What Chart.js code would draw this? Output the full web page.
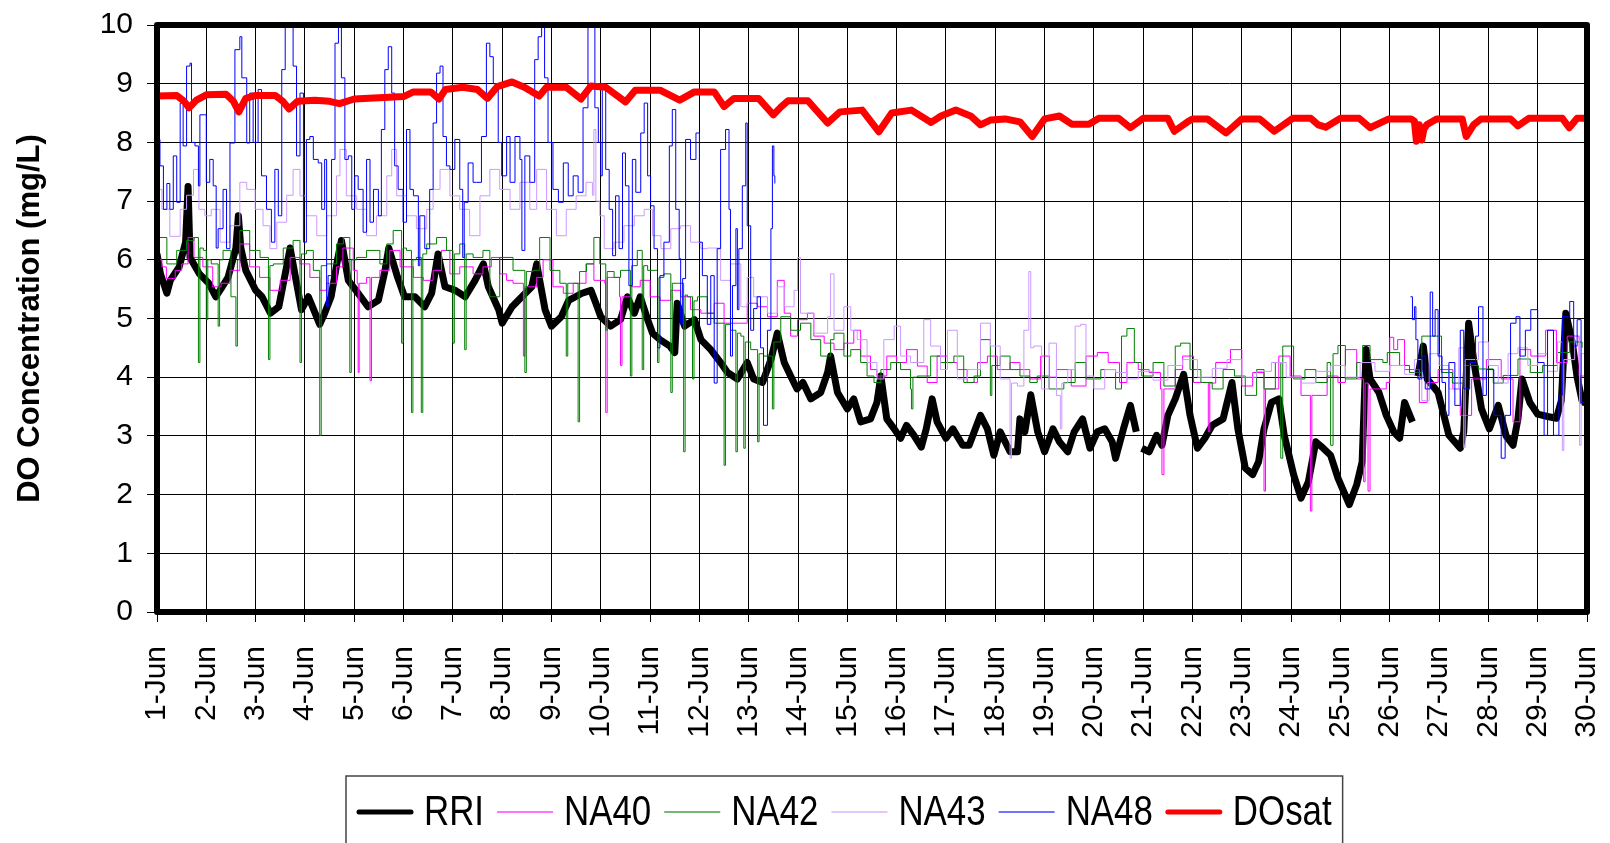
<!DOCTYPE html>
<html lang="en">
<head>
  <meta charset="UTF-8" />
  <title>DO Concentration - June</title>
  <script src="https://cdn.jsdelivr.net/npm/chart.js"></script>
  <style>
    body { margin: 0; background: #fff; }
    #wrap { width: 1610px; height: 843px; position: relative; }
  </style>
</head>
<body>
<div id="wrap"><canvas id="doChart"></canvas></div>

<script>
// x tick labels (day of June)
const dayLabels = ['1-Jun','2-Jun','3-Jun','4-Jun','5-Jun','6-Jun','7-Jun','8-Jun','9-Jun','10-Jun',
  '11-Jun','12-Jun','13-Jun','14-Jun','15-Jun','16-Jun','17-Jun','18-Jun','19-Jun','20-Jun',
  '21-Jun','22-Jun','23-Jun','24-Jun','25-Jun','26-Jun','27-Jun','28-Jun','29-Jun','30-Jun'];

// [day, mg/L]; null = gap in record
const rri = [[1.0,6.1],[1.07,5.76],[1.2,5.43],[1.27,5.65],[1.45,5.88],[1.58,6.3],[1.63,7.25],[1.67,6.04],[1.86,5.76],[2.05,5.6],[2.19,5.37],[2.3,5.51],[2.44,5.7],[2.6,6.2],[2.65,6.75],[2.7,6.2],[2.8,5.82],[3.0,5.48],[3.13,5.37],[3.3,5.09],[3.47,5.2],[3.6,5.76],[3.7,6.2],[3.82,5.65],[3.93,5.15],[4.07,5.37],[4.3,4.9],[4.4,5.09],[4.53,5.37],[4.67,6.04],[4.74,6.33],[4.88,5.65],[5.08,5.43],[5.28,5.2],[5.49,5.31],[5.62,5.8],[5.7,6.2],[5.88,5.7],[6.02,5.37],[6.23,5.37],[6.43,5.2],[6.57,5.43],[6.7,6.1],[6.84,5.54],[7.05,5.48],[7.25,5.37],[7.45,5.65],[7.62,5.93],[7.72,5.54],[7.93,5.15],[8.0,4.92],[8.2,5.2],[8.4,5.37],[8.6,5.54],[8.7,5.93],[8.87,5.15],[9.0,4.87],[9.2,5.03],[9.35,5.31],[9.62,5.43],[9.8,5.48],[9.9,5.26],[10.0,5.03],[10.2,4.87],[10.4,4.98],[10.54,5.37],[10.68,5.09],[10.8,5.37],[10.95,4.98],[11.05,4.75],[11.2,4.64],[11.4,4.53],[11.5,4.42],[11.55,5.26],[11.7,4.87],[11.9,4.98],[12.03,4.64],[12.23,4.47],[12.43,4.25],[12.57,4.08],[12.77,3.97],[12.97,4.25],[13.1,3.97],[13.28,3.91],[13.45,4.3],[13.58,4.75],[13.72,4.25],[13.85,4.02],[13.98,3.8],[14.1,3.91],[14.26,3.63],[14.46,3.74],[14.6,4.08],[14.66,4.36],[14.8,3.74],[15.0,3.46],[15.13,3.63],[15.27,3.24],[15.47,3.29],[15.6,3.57],[15.68,4.02],[15.8,3.29],[15.95,3.12],[16.08,2.96],[16.2,3.18],[16.35,3.01],[16.5,2.81],[16.6,3.12],[16.72,3.63],[16.82,3.24],[17.0,2.96],[17.14,3.12],[17.34,2.84],[17.47,2.84],[17.7,3.35],[17.84,3.12],[17.97,2.67],[18.1,3.07],[18.3,2.73],[18.45,2.73],[18.5,3.29],[18.6,3.07],[18.72,3.7],[18.86,3.07],[19.0,2.73],[19.17,3.12],[19.3,2.9],[19.47,2.73],[19.6,3.07],[19.77,3.29],[19.92,2.79],[20.07,3.07],[20.22,3.12],[20.37,2.9],[20.44,2.62],[20.6,3.12],[20.74,3.52],[20.86,3.07],[20.92,null],[20.97,2.79],[21.12,2.73],[21.27,3.01],[21.38,2.84],[21.5,3.35],[21.65,3.63],[21.82,4.05],[21.95,3.35],[22.1,2.79],[22.25,2.96],[22.4,3.18],[22.62,3.29],[22.8,3.91],[22.92,3.12],[23.07,2.45],[23.22,2.34],[23.34,2.56],[23.45,3.12],[23.6,3.57],[23.75,3.63],[23.86,3.01],[24.05,2.34],[24.2,1.94],[24.35,2.22],[24.5,2.9],[24.65,2.79],[24.8,2.67],[24.95,2.28],[25.18,1.83],[25.33,2.17],[25.44,2.56],[25.52,4.47],[25.6,3.97],[25.78,3.74],[25.93,3.35],[26.08,3.07],[26.2,2.96],[26.3,3.57],[26.46,3.24],[26.52,null],[26.57,4.02],[26.68,4.53],[26.76,3.97],[26.98,3.74],[27.2,3.01],[27.43,2.79],[27.5,3.07],[27.6,4.92],[27.7,4.3],[27.86,3.46],[28.02,3.12],[28.2,3.52],[28.36,3.0],[28.5,2.84],[28.6,3.29],[28.68,3.97],[28.84,3.57],[29.0,3.37],[29.2,3.33],[29.38,3.3],[29.48,3.6],[29.57,5.09],[29.7,4.6],[29.8,4.0],[29.9,3.6],[29.97,3.55]];

const na40 = [[1.0,6.0],[1.1,5.88],[1.19,5.68],[1.37,5.82],[1.5,5.93],[1.63,6.38],[1.75,6.04],[1.93,5.88],[2.13,5.54],[2.3,5.6],[2.48,5.82],[2.68,6.27],[2.88,5.88],[3.08,5.7],[3.29,5.48],[3.5,5.65],[3.7,6.04],[3.9,5.93],[4.1,5.7],[4.3,5.48],[4.44,5.6],[4.64,5.88],[4.77,6.2],[4.98,5.82],[5.06,5.6],[5.08,4.08],[5.1,5.6],[5.25,5.7],[5.32,3.94],[5.35,5.7],[5.52,5.82],[5.72,6.16],[5.93,5.88],[6.2,5.7],[6.4,5.65],[6.6,5.82],[6.77,6.16],[6.94,5.76],[7.14,5.88],[7.41,5.76],[7.61,5.88],[7.78,6.04],[7.95,5.76],[8.09,5.65],[8.22,5.6],[8.43,4.36],[8.46,5.54],[8.7,5.7],[8.83,6.0],[9.03,5.54],[9.24,5.43],[9.44,5.6],[9.7,5.93],[9.86,5.65],[10.08,5.6],[10.1,3.4],[10.13,5.7],[10.2,5.7],[10.38,5.37],[10.4,4.2],[10.43,5.37],[10.6,5.54],[10.8,5.65],[11.0,5.37],[11.2,5.31],[11.42,5.48],[11.62,5.37],[11.82,5.15],[12.03,5.09],[12.3,5.26],[12.5,4.92],[12.7,4.92],[12.97,5.26],[13.18,5.2],[13.38,5.03],[13.58,5.65],[13.72,5.09],[13.85,4.7],[13.99,4.98],[14.19,5.09],[14.32,4.7],[14.53,4.58],[14.73,4.47],[14.93,4.58],[15.13,4.8],[15.27,4.36],[15.47,4.13],[15.6,4.02],[15.8,4.36],[16.0,4.25],[16.2,4.47],[16.42,4.19],[16.62,3.91],[16.82,4.36],[17.03,4.25],[17.23,4.13],[17.43,3.91],[17.64,4.25],[17.84,4.36],[18.04,4.13],[18.3,4.25],[18.5,4.13],[18.7,3.97],[18.92,4.36],[19.1,4.0],[19.24,4.13],[19.54,3.85],[19.84,4.36],[20.07,4.42],[20.29,4.25],[20.52,3.91],[20.67,4.25],[20.9,4.13],[21.12,4.08],[21.35,3.8],[21.38,2.34],[21.42,3.8],[21.5,3.8],[21.65,4.13],[21.8,4.36],[22.02,3.91],[22.32,3.07],[22.35,3.9],[22.47,4.25],[22.77,4.47],[23.0,3.85],[23.22,4.08],[23.45,2.06],[23.48,3.8],[23.56,3.8],[23.75,4.36],[23.98,4.02],[24.2,3.69],[24.39,1.72],[24.42,3.69],[24.5,3.69],[24.73,4.02],[24.95,3.91],[25.1,4.47],[25.33,3.97],[25.47,2.22],[25.5,3.9],[25.56,2.06],[25.6,3.8],[25.7,3.8],[25.93,3.91],[26.0,4.68],[26.08,4.47],[26.16,4.64],[26.3,4.13],[26.6,3.57],[26.76,3.91],[26.98,4.13],[27.28,3.8],[27.43,3.35],[27.66,3.97],[27.96,4.3],[28.26,3.97],[28.5,3.24],[28.64,4.47],[28.86,4.36],[29.16,4.8],[29.38,4.25],[29.6,4.7],[29.84,4.02],[30.0,4.98]];

const na42 = [[1.0,6.38],[1.2,5.93],[1.4,6.16],[1.6,6.33],[1.75,6.38],[1.84,4.25],[1.87,6.2],[1.94,6.16],[2.0,4.98],[2.03,6.0],[2.1,5.93],[2.24,4.87],[2.27,6.0],[2.34,6.16],[2.5,5.37],[2.6,4.53],[2.63,6.0],[2.68,6.5],[2.88,6.16],[3.09,6.04],[3.26,4.3],[3.29,5.9],[3.36,5.93],[3.56,6.2],[3.76,6.33],[3.9,4.25],[3.93,6.1],[4.03,6.16],[4.17,5.82],[4.3,3.01],[4.33,5.9],[4.44,5.93],[4.64,6.27],[4.78,6.38],[4.91,4.08],[4.94,6.0],[5.05,6.04],[5.25,6.16],[5.52,5.93],[5.66,6.27],[5.79,6.5],[5.96,4.58],[5.99,6.2],[6.06,6.16],[6.16,3.4],[6.19,6.0],[6.26,6.04],[6.36,3.4],[6.39,6.1],[6.47,6.27],[6.67,6.38],[6.87,6.16],[7.0,4.58],[7.03,6.1],[7.14,6.27],[7.24,4.47],[7.27,6.1],[7.41,6.04],[7.61,6.16],[7.75,5.37],[7.95,6.04],[8.22,5.82],[8.46,4.08],[8.49,5.8],[8.63,5.82],[8.76,6.38],[8.97,5.82],[9.17,5.6],[9.3,4.36],[9.33,5.6],[9.44,5.6],[9.54,3.24],[9.57,5.8],[9.71,5.93],[9.86,6.38],[9.98,5.93],[10.1,4.8],[10.13,5.8],[10.27,5.7],[10.4,5.82],[10.6,4.02],[10.63,5.9],[10.74,6.16],[10.84,4.13],[10.87,5.9],[10.95,5.82],[11.15,4.25],[11.18,5.7],[11.28,5.76],[11.42,3.74],[11.45,5.6],[11.55,5.6],[11.68,2.73],[11.71,5.4],[11.76,5.37],[11.86,3.97],[11.89,5.3],[11.96,5.37],[12.16,5.09],[12.3,4.92],[12.5,2.5],[12.53,4.9],[12.63,4.8],[12.74,2.73],[12.77,4.75],[12.84,4.7],[12.9,2.79],[12.93,4.6],[13.04,4.47],[13.18,2.9],[13.21,4.4],[13.3,4.36],[13.48,3.46],[13.51,4.6],[13.65,5.03],[13.85,4.8],[14.05,4.92],[14.26,4.64],[14.46,4.36],[14.66,4.64],[14.73,4.75],[14.93,4.36],[15.07,4.47],[15.27,4.25],[15.4,4.02],[15.54,3.91],[15.68,4.13],[15.88,4.25],[16.08,4.13],[16.28,3.8],[16.3,3.46],[16.33,4.0],[16.42,4.02],[16.69,4.36],[16.89,4.25],[17.16,4.36],[17.36,3.91],[17.57,4.02],[17.7,4.64],[17.9,3.69],[17.93,4.2],[18.1,4.36],[18.3,4.13],[18.5,4.02],[18.7,3.91],[18.85,4.02],[19.09,3.8],[19.39,3.91],[19.62,4.25],[19.84,3.97],[20.14,4.13],[20.44,3.8],[20.56,4.7],[20.67,4.83],[20.82,4.25],[20.97,4.02],[21.2,4.25],[21.42,3.85],[21.65,4.53],[21.76,4.58],[21.95,4.13],[22.17,3.91],[22.4,3.8],[22.62,4.13],[22.85,4.02],[23.07,3.69],[23.3,4.13],[23.45,3.8],[23.68,4.25],[23.79,2.62],[23.83,4.53],[24.05,3.97],[24.28,4.13],[24.5,3.91],[24.73,4.25],[24.8,2.84],[24.85,4.4],[24.95,4.54],[25.1,3.97],[25.33,4.25],[25.45,4.54],[25.6,4.3],[25.86,4.25],[25.95,4.42],[26.2,4.2],[26.4,4.08],[26.65,4.7],[26.85,4.7],[27.05,4.08],[27.27,3.9],[27.5,4.2],[27.8,4.14],[28.1,3.9],[28.3,4.03],[28.6,4.31],[28.85,4.08],[29.1,4.2],[29.4,4.42],[29.65,4.6],[29.9,4.5]];

const na43 = [[1.0,7.2],[1.1,6.86],[1.26,6.4],[1.47,6.86],[1.6,7.1],[1.74,7.54],[1.85,6.86],[1.97,6.75],[2.1,6.86],[2.28,6.3],[2.48,6.58],[2.68,7.32],[2.82,7.2],[2.99,6.86],[3.15,6.58],[3.29,6.19],[3.43,6.64],[3.63,7.1],[3.76,7.54],[3.9,7.09],[4.03,6.75],[4.24,6.41],[4.44,6.75],[4.64,7.43],[4.71,7.88],[4.84,7.09],[5.05,6.86],[5.25,6.41],[5.45,6.75],[5.66,7.43],[5.76,7.88],[5.86,7.09],[6.06,6.75],[6.26,6.53],[6.47,6.86],[6.6,7.2],[6.74,7.54],[6.94,7.09],[7.14,6.86],[7.34,6.41],[7.55,7.09],[7.75,7.54],[7.95,7.2],[8.16,6.86],[8.36,7.32],[8.56,6.86],[8.7,7.54],[8.9,6.86],[9.1,6.41],[9.3,6.86],[9.5,7.09],[9.7,7.32],[9.83,7.1],[9.86,8.22],[9.9,7.0],[9.98,6.75],[10.07,6.19],[10.27,6.3],[10.47,6.58],[10.68,6.75],[10.88,6.86],[11.05,6.41],[11.22,6.19],[11.42,6.53],[11.62,6.58],[11.82,6.3],[12.03,6.19],[12.16,6.2],[12.43,5.65],[12.63,5.93],[12.84,5.2],[12.97,5.7],[13.1,5.37],[13.38,5.09],[13.58,5.54],[13.72,5.2],[13.92,5.48],[13.99,6.04],[14.05,5.09],[14.32,4.75],[14.6,5.03],[14.66,5.76],[14.73,4.8],[14.93,5.2],[15.07,4.8],[15.2,4.64],[15.4,4.25],[15.6,3.97],[15.74,4.64],[15.95,4.87],[16.08,4.36],[16.28,4.25],[16.55,4.98],[16.69,4.53],[16.89,4.13],[17.03,4.8],[17.23,3.97],[17.43,4.13],[17.7,4.92],[17.9,4.53],[18.1,3.97],[18.3,2.62],[18.33,3.9],[18.45,3.85],[18.58,4.8],[18.68,5.8],[18.72,4.5],[18.78,4.53],[18.94,3.8],[19.09,4.58],[19.24,3.69],[19.32,3.12],[19.35,3.9],[19.47,4.13],[19.62,4.87],[19.73,4.9],[19.84,4.02],[20.0,3.8],[20.22,4.13],[20.44,4.08],[20.67,3.97],[20.9,4.1],[21.2,3.95],[21.5,4.2],[21.8,4.3],[22.1,4.0],[22.4,4.15],[22.7,4.3],[23.0,4.0],[23.3,4.1],[23.6,4.25],[23.9,4.0],[24.2,3.9],[24.5,4.1],[24.8,4.2],[25.1,4.0],[25.4,4.25],[25.7,4.1],[26.0,4.2],[26.3,4.05],[26.5,4.3],[26.65,3.6],[26.8,4.4],[27.0,4.2],[27.2,3.8],[27.4,4.5],[27.5,2.8],[27.53,4.3],[27.8,4.6],[28.0,4.2],[28.2,3.9],[28.4,4.4],[28.6,4.5],[28.8,4.2],[29.0,4.4],[29.2,4.1],[29.4,4.6],[29.5,2.75],[29.53,4.3],[29.75,4.7],[29.85,2.84],[29.88,4.4],[30.0,4.2]];

const na48 = [[1.0,8.1],[1.03,8.05],[1.06,7.6],[1.13,6.86],[1.2,7.3],[1.26,6.86],[1.33,7.77],[1.4,6.98],[1.47,8.67],[1.53,7.94],[1.6,9.3],[1.67,9.35],[1.7,8.0],[1.77,7.94],[1.84,7.26],[1.87,8.47],[1.97,8.47],[2.0,7.32],[2.07,7.71],[2.14,7.26],[2.2,6.2],[2.24,6.53],[2.34,7.2],[2.41,6.19],[2.48,7.99],[2.58,9.58],[2.68,9.8],[2.72,9.1],[2.82,7.99],[2.88,8.84],[2.95,8.0],[3.05,8.9],[3.12,7.43],[3.22,6.86],[3.32,6.3],[3.39,7.54],[3.46,6.75],[3.53,9.24],[3.6,9.97],[3.7,10.0],[3.76,9.3],[3.83,7.77],[3.9,8.84],[3.97,6.3],[4.03,8.05],[4.1,8.1],[4.17,7.71],[4.27,7.65],[4.34,6.86],[4.4,7.71],[4.44,5.2],[4.47,5.73],[4.54,7.71],[4.61,9.69],[4.68,10.0],[4.74,9.1],[4.81,7.71],[4.88,7.77],[4.95,6.86],[5.01,7.43],[5.08,7.2],[5.18,6.47],[5.25,7.71],[5.32,6.64],[5.39,7.2],[5.49,6.75],[5.55,8.22],[5.62,9.24],[5.69,9.63],[5.76,8.84],[5.82,7.6],[5.89,7.2],[5.99,6.64],[6.06,8.22],[6.13,7.2],[6.2,7.09],[6.3,5.9],[6.33,6.75],[6.43,6.19],[6.53,7.2],[6.6,8.33],[6.67,9.18],[6.74,9.3],[6.8,8.1],[6.87,7.6],[6.94,7.54],[7.04,8.05],[7.14,7.2],[7.2,6.04],[7.23,6.98],[7.31,7.65],[7.41,7.32],[7.48,7.32],[7.58,8.1],[7.68,9.69],[7.75,9.46],[7.82,9.0],[7.92,8.0],[7.99,7.43],[8.09,8.1],[8.16,7.32],[8.26,8.1],[8.36,7.71],[8.4,6.16],[8.46,7.77],[8.56,7.32],[8.66,9.41],[8.73,9.8],[8.8,10.0],[8.86,9.1],[8.93,8.0],[9.03,7.2],[9.14,6.98],[9.24,7.65],[9.34,7.09],[9.44,7.43],[9.54,7.15],[9.64,8.59],[9.74,10.0],[9.8,10.0],[9.88,8.59],[9.95,8.0],[10.0,7.43],[10.03,9.0],[10.1,7.54],[10.17,6.86],[10.24,6.07],[10.3,7.09],[10.37,6.19],[10.44,7.82],[10.5,7.26],[10.57,5.56],[10.64,7.71],[10.71,7.15],[10.81,8.16],[10.88,8.67],[10.95,7.43],[11.01,6.92],[11.08,6.19],[11.15,4.5],[11.2,5.73],[11.28,6.3],[11.39,7.94],[11.45,8.56],[11.52,6.86],[11.59,6.02],[11.62,4.9],[11.66,5.68],[11.72,8.05],[11.82,7.71],[11.93,8.16],[12.0,6.3],[12.06,5.73],[12.16,4.9],[12.23,5.73],[12.3,3.9],[12.36,6.19],[12.43,7.88],[12.53,8.22],[12.6,6.86],[12.63,4.36],[12.67,5.56],[12.74,6.53],[12.77,5.15],[12.8,6.19],[12.87,7.26],[12.94,8.33],[12.97,6.58],[13.04,4.8],[13.1,5.17],[13.17,5.37],[13.24,4.5],[13.3,3.18],[13.38,4.8],[13.45,6.53],[13.48,7.94],[13.51,7.43],[13.53,7.3],[13.6,null],[26.42,5.37],[26.46,4.98],[26.5,5.2],[26.53,4.64],[26.57,3.97],[26.65,4.36],[26.72,3.8],[26.82,5.45],[26.87,4.7],[26.92,5.15],[26.98,4.36],[27.06,3.91],[27.13,3.35],[27.2,4.25],[27.32,3.52],[27.43,4.8],[27.5,3.8],[27.62,4.25],[27.74,4.7],[27.8,5.2],[27.89,3.69],[27.96,4.13],[28.11,3.35],[28.26,2.62],[28.34,3.35],[28.45,4.92],[28.56,5.03],[28.64,4.36],[28.75,4.8],[28.86,5.15],[29.0,4.25],[29.13,3.01],[29.2,4.8],[29.32,3.01],[29.43,3.69],[29.5,5.03],[29.65,5.29],[29.73,4.53],[29.8,4.98],[29.88,3.57],[29.95,2.67],[30.0,4.25]];

const doSat = [[1.0,8.79],[1.4,8.8],[1.55,8.7],[1.65,8.59],[1.8,8.72],[2.0,8.81],[2.4,8.82],[2.55,8.7],[2.66,8.52],[2.8,8.75],[3.0,8.8],[3.4,8.8],[3.55,8.7],[3.68,8.57],[3.85,8.7],[4.2,8.72],[4.5,8.7],[4.7,8.66],[5.0,8.74],[5.5,8.76],[6.0,8.78],[6.2,8.86],[6.55,8.86],[6.72,8.74],[6.85,8.9],[7.2,8.94],[7.5,8.9],[7.7,8.75],[7.9,8.95],[8.2,9.03],[8.45,8.94],[8.75,8.79],[8.9,8.94],[9.3,8.94],[9.6,8.74],[9.8,8.96],[10.1,8.94],[10.5,8.69],[10.7,8.89],[11.2,8.89],[11.6,8.72],[11.9,8.86],[12.3,8.86],[12.5,8.61],[12.7,8.75],[13.2,8.75],[13.5,8.47],[13.65,8.6],[13.8,8.71],[14.2,8.71],[14.6,8.33],[14.85,8.52],[15.3,8.55],[15.64,8.18],[15.9,8.5],[16.3,8.55],[16.7,8.34],[16.9,8.45],[17.2,8.55],[17.5,8.45],[17.7,8.3],[17.9,8.38],[18.2,8.4],[18.5,8.35],[18.75,8.1],[19.0,8.4],[19.3,8.45],[19.55,8.31],[19.9,8.31],[20.1,8.41],[20.5,8.41],[20.74,8.25],[21.0,8.41],[21.5,8.41],[21.63,8.19],[21.9,8.35],[22.0,8.4],[22.3,8.4],[22.68,8.16],[23.0,8.4],[23.36,8.4],[23.66,8.19],[24.03,8.41],[24.4,8.41],[24.55,8.3],[24.7,8.26],[25.0,8.41],[25.38,8.41],[25.6,8.25],[25.98,8.4],[26.43,8.4],[26.5,8.36],[26.54,8.02],[26.6,8.3],[26.65,8.04],[26.69,8.22],[26.75,8.3],[26.95,8.4],[27.47,8.4],[27.55,8.1],[27.7,8.3],[27.85,8.4],[28.45,8.4],[28.6,8.28],[28.82,8.41],[29.5,8.41],[29.64,8.25],[29.8,8.41],[30.0,8.41]];

const seriesNames = ['RRI', 'NA40', 'NA42', 'NA43', 'NA48', 'DOsat'];

const FONT = "'Liberation Sans', Arial, sans-serif";

const toXY = arr => arr.map(p => ({ x: p[0], y: p[1] }));

function mkSet(label, arr, color, width, order, stepped) {
  return {
    label: label,
    data: toXY(arr),
    borderColor: color,
    backgroundColor: color,
    borderWidth: width,
    pointRadius: 0,
    stepped: stepped,
    tension: 0,
    fill: false,
    spanGaps: false,
    borderJoinStyle: 'round',
    order: order
  };
}

// thick frame round the plot
const framePlugin = {
  id: 'frame',
  afterDatasetsDraw(chart) {
    const { ctx, chartArea: a } = chart;
    ctx.save();
    ctx.strokeStyle = '#000';
    ctx.lineWidth = 6;
    ctx.lineJoin = 'round';
    ctx.strokeRect(a.left, a.top, a.right - a.left, a.bottom - a.top);
    ctx.restore();
  }
};

// Excel-style boxed legend, text a bit condensed like the original
const legendPlugin = {
  id: 'boxLegend',
  afterDraw(chart) {
    const ctx = chart.ctx;
    const sq = 0.83;
    let x = 357;
    const lineY = 812, baseY = 825;
    ctx.save();
    ctx.font = '42px ' + FONT;
    ctx.textBaseline = 'alphabetic';
    ctx.fillStyle = '#000';
    chart.data.datasets.forEach(ds => {
      const thick = ds.borderWidth > 3;
      ctx.save();
      ctx.strokeStyle = ds.borderColor;
      ctx.lineWidth = thick ? 5 : 2;
      ctx.globalAlpha = thick ? 1 : 0.55;
      ctx.lineCap = thick ? 'round' : 'butt';
      ctx.beginPath();
      ctx.moveTo(x + (thick ? 2 : 0), lineY);
      ctx.lineTo(x + 56 - (thick ? 2 : 0), lineY);
      ctx.stroke();
      ctx.restore();
      x += 56 + 11;
      const w = ctx.measureText(ds.label).width * sq;
      ctx.save();
      ctx.translate(x, baseY);
      ctx.scale(sq, 1);
      ctx.fillText(ds.label, 0, 0);
      ctx.restore();
      x += w + 13;
    });
    ctx.strokeStyle = '#444';
    ctx.lineWidth = 1.5;
    ctx.strokeRect(346, 776, x - 13 + 11 - 346, 90);
    ctx.restore();
  }
};

new Chart(document.getElementById('doChart'), {
  type: 'line',
  data: {
    datasets: [
      mkSet(seriesNames[0], rri, '#000000', 7, 6, false),
      mkSet(seriesNames[1], na40, '#FF00FF', 1, 5, true),
      mkSet(seriesNames[2], na42, '#008000', 1, 4, true),
      mkSet(seriesNames[3], na43, '#CC99FF', 1, 3, true),
      mkSet(seriesNames[4], na48, '#0000FF', 1, 2, true),
      mkSet(seriesNames[5], doSat, '#FF0000', 7, 1, false)
    ]
  },
  options: {
    responsive: true,
    maintainAspectRatio: false,
    animation: false,
    events: [],
    layout: { padding: { top: 25, right: 23, left: 0, bottom: 63 } },
    scales: {
      x: {
        type: 'linear',
        min: 1,
        max: 30,
        afterFit(scale) {
          scale.height = 168;
          scale.paddingLeft = 0;
          scale.paddingRight = 0;
        },
        afterBuildTicks(scale) {
          scale.ticks = dayLabels.map((l, i) => ({ value: i + 1 }));
        },
        ticks: {
          autoSkip: false,
          minRotation: 90,
          maxRotation: 90,
          padding: 24,
          color: '#000',
          font: { family: FONT, size: 30 },
          callback: v => dayLabels[v - 1]
        },
        grid: { color: '#000', lineWidth: 1, tickLength: 10, tickColor: '#000' },
        border: { display: false }
      },
      y: {
        min: 0,
        max: 10,
        afterFit(scale) {
          scale.width = 157;
          scale.paddingTop = 0;
          scale.paddingBottom = 0;
        },
        ticks: {
          stepSize: 1,
          padding: 14,
          color: '#000',
          font: { family: FONT, size: 30 }
        },
        grid: { color: '#000', lineWidth: 1, tickLength: 10, tickColor: '#000' },
        border: { display: false },
        title: {
          display: true,
          text: 'DO Concentration (mg/L)',
          color: '#000',
          font: { family: FONT, size: 31, weight: 'bold' },
          padding: { top: 12, bottom: 0 }
        }
      }
    },
    plugins: {
      tooltip: { enabled: false },
      legend: { display: false }
    }
  },
  plugins: [framePlugin, legendPlugin]
});
</script>
</body>
</html>
